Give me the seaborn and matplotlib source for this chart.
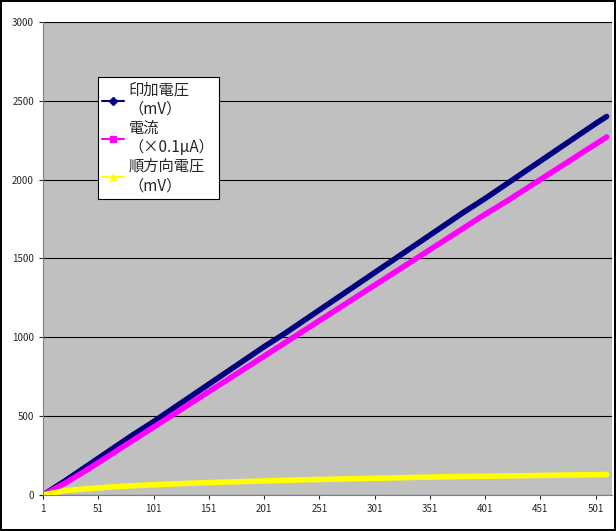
import matplotlib
matplotlib.use("Agg")
import matplotlib.pyplot as plt
import seaborn as sns
import pandas as pd
from matplotlib.lines import Line2D

sns.set_style("white")
plt.rcParams['font.family'] = ['Noto Sans CJK JP', 'DejaVu Sans']

x = [1, 21, 41, 61, 81, 101, 121, 141, 161, 181, 201, 221, 241, 261, 281, 301, 321, 341,
     361, 381, 401, 421, 441, 461, 481, 501, 511]
applied = [0, 90, 185, 280, 375, 465, 560, 655, 750, 845, 940, 1030, 1125, 1220, 1315, 1410,
           1505, 1600, 1695, 1790, 1880, 1975, 2070, 2165, 2260, 2355, 2400]
current = [0, 75, 160, 250, 340, 430, 520, 610, 700, 790, 880, 970, 1060, 1150, 1240, 1330,
           1420, 1510, 1600, 1690, 1780, 1865, 1955, 2045, 2135, 2225, 2270]
forward = [0, 28, 40, 50, 58, 65, 71, 76, 81, 85, 89, 93, 97, 100, 103, 106, 109, 112,
           115, 117, 119, 121, 123, 125, 127, 129, 130]
names = ['印加電圧\n（mV）', '電流\n（×0.1μA）', '順方向電圧\n（mV）']
colors = ['#000080', '#FF00FF', '#FFFF00']
markers = ['D', 's', '^']

df = pd.DataFrame({'x': x * 3, 'y': applied + current + forward,
                   's': [names[0]] * len(x) + [names[1]] * len(x) + [names[2]] * len(x)})

fig = plt.figure(figsize=(6.16, 5.31), dpi=100)
fig.patch.set_edgecolor('black'); fig.patch.set_linewidth(1.5)
ax = fig.add_axes([0.0698, 0.0678, 0.924, 0.891])
ax.set_facecolor('#C0C0C0')
sns.lineplot(data=df, x='x', y='y', hue='s', palette=colors, linewidth=4, ax=ax, legend=False)
ax.set_xlim(1, 516); ax.set_ylim(0, 3000)
ax.set_xticks(list(range(1, 502, 50)))
ax.set_yticks(range(0, 3001, 500))
ax.tick_params(labelsize=7, length=3, direction='out', left=True, bottom=True)
ax.grid(axis='y', color='black', linewidth=0.8)
ax.set_xlabel(''); ax.set_ylabel('')
for sp in ['top', 'right']:
    ax.spines[sp].set_visible(False)
for sp in ['left', 'bottom']:
    ax.spines[sp].set_color('#808080')
handles = [Line2D([0], [0], color=c, marker=m, markersize=4, lw=1.5) for c, m in zip(colors, markers)]
leg = ax.legend(handles, names, loc='upper left', bbox_to_anchor=(0.083, 0.9), fontsize=11,
                frameon=True, fancybox=False, edgecolor='black', framealpha=1,
                handlelength=1.4, handletextpad=0.3, borderpad=0.3, labelspacing=0.1)
leg.get_frame().set_linewidth(0.8)
fig.savefig('out.png', dpi=100, edgecolor=fig.get_edgecolor())
